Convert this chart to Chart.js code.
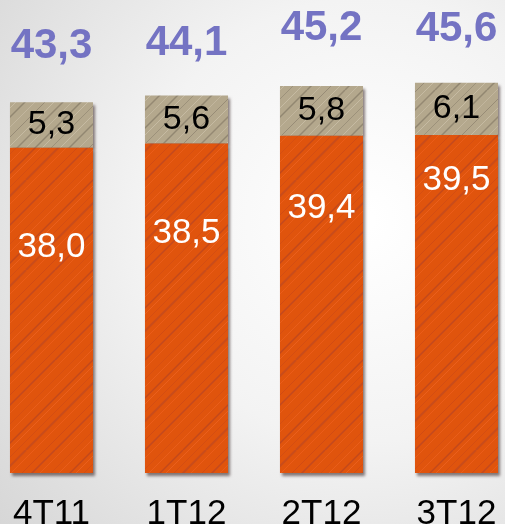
<!DOCTYPE html>
<html><head><meta charset="utf-8">
<script src="https://cdn.jsdelivr.net/npm/chart.js@4/dist/chart.umd.min.js"></script>
<style>html,body{margin:0;padding:0;background:#ececec;overflow:hidden}</style>
</head><body>
<canvas id="c" width="505" height="524" style="display:block;width:505px;height:524px"></canvas>
<script>
const categories = ['4T11', '1T12', '2T12', '3T12'];
const baseValues = [38.0, 38.5, 39.4, 39.5];
const topValues = [5.3, 5.6, 5.8, 6.1];
const totalValues = [43.3, 44.1, 45.2, 45.6];

const fmt = v => v.toFixed(1).replace('.', ',');
const FONT = '"Liberation Sans", Arial, sans-serif';

function makePattern(base, streaks) {
  const N = 90;
  const cv = document.createElement('canvas');
  cv.width = N; cv.height = N;
  const g = cv.getContext('2d');
  g.fillStyle = base; g.fillRect(0, 0, N, N);
  streaks.forEach(s => {
    g.strokeStyle = s.c; g.lineWidth = s.w;
    for (const k of [s.k - N, s.k, s.k + N]) {
      g.beginPath(); g.moveTo(k, N); g.lineTo(k + N, 0); g.stroke();
    }
  });
  return g.createPattern(cv, 'repeat');
}

const ctx0 = document.getElementById('c').getContext('2d');
const orangeFill = makePattern('#e0540d', [
  {k: 3, w: 1.5, c: 'rgba(150,55,50,0.40)'},
  {k: 9, w: 1, c: 'rgba(255,120,60,0.35)'},
  {k: 17, w: 1, c: 'rgba(190,65,30,0.35)'},
  {k: 26, w: 2, c: 'rgba(150,60,60,0.30)'},
  {k: 34, w: 1, c: 'rgba(255,110,50,0.35)'},
  {k: 45, w: 1, c: 'rgba(180,60,35,0.35)'},
  {k: 55, w: 1.5, c: 'rgba(140,55,65,0.35)'},
  {k: 63, w: 1, c: 'rgba(255,115,55,0.30)'},
  {k: 74, w: 1, c: 'rgba(190,65,30,0.30)'},
  {k: 82, w: 1, c: 'rgba(255,120,60,0.30)'}
]);
const tanFill = makePattern('#b4a88d', [
  {k: 3, w: 1.5, c: 'rgba(110,100,85,0.50)'},
  {k: 10, w: 1, c: 'rgba(215,205,185,0.50)'},
  {k: 19, w: 1, c: 'rgba(120,110,95,0.40)'},
  {k: 28, w: 1, c: 'rgba(220,210,190,0.45)'},
  {k: 37, w: 1.5, c: 'rgba(105,95,80,0.45)'},
  {k: 47, w: 1, c: 'rgba(210,200,180,0.45)'},
  {k: 57, w: 1, c: 'rgba(115,105,90,0.45)'},
  {k: 66, w: 1, c: 'rgba(220,210,190,0.45)'},
  {k: 75, w: 1.5, c: 'rgba(110,100,85,0.45)'},
  {k: 84, w: 1, c: 'rgba(215,205,185,0.40)'}
]);

const bgPlugin = {
  id: 'bg',
  beforeDraw(chart) {
    const c = chart.ctx, W = chart.width, H = chart.height;
    c.save();
    const gr = c.createRadialGradient(W * 0.72, H * 0.42, 10, W * 0.72, H * 0.42, W * 0.95);
    gr.addColorStop(0, '#ffffff');
    gr.addColorStop(0.45, '#f3f3f3');
    gr.addColorStop(1, '#d6d6d6');
    c.fillStyle = gr; c.fillRect(0, 0, W, H);
    c.restore();
  }
};

const shadowPlugin = {
  id: 'shadow',
  beforeDatasetsDraw(chart) {
    const c = chart.ctx; c.save();
    c.shadowColor = 'rgba(40,20,20,0.55)';
    c.shadowBlur = 3; c.shadowOffsetX = 2; c.shadowOffsetY = 3;
  },
  afterDatasetsDraw(chart) { chart.ctx.restore(); }
};

const labelPlugin = {
  id: 'vlabels',
  afterDraw(chart, args, opts) {
    const c = chart.ctx;
    const m0 = chart.getDatasetMeta(0), m1 = chart.getDatasetMeta(1);
    c.save();
    c.textAlign = 'center'; c.textBaseline = 'middle';
    categories.forEach((cat, i) => {
      const e0 = m0.data[i], e1 = m1.data[i];
      c.fillStyle = '#ffffff'; c.font = '35px ' + FONT;
      c.fillText(fmt(baseValues[i]), e0.x, e0.y + opts.baseNudge[i]);
      c.fillStyle = '#000000'; c.font = '34px ' + FONT;
      c.fillText(fmt(topValues[i]), e1.x, (e1.y + e1.base) / 2);
      c.fillStyle = '#7473c3'; c.font = 'bold 42px ' + FONT;
      c.fillText(fmt(totalValues[i]), e1.x, e1.y - opts.totalGap[i]);
    });
    c.restore();
  }
};

new Chart(ctx0, {
  type: 'bar',
  data: {
    labels: categories,
    datasets: [
      {data: baseValues, backgroundColor: orangeFill, borderWidth: 0, clip: false,
       barPercentage: 0.615, categoryPercentage: 1},
      {data: topValues, backgroundColor: tanFill, borderWidth: 0, clip: false,
       barPercentage: 0.615, categoryPercentage: 1}
    ]
  },
  options: {
    responsive: false,
    animation: false,
    devicePixelRatio: 1,
    layout: {padding: {left: 51.5, right: 48.5, top: 0, bottom: 0}},
    plugins: {
      legend: {display: false}, tooltip: {enabled: false},
      vlabels: {baseNudge: [100, 90, 73, 45], totalGap: [56, 52, 58, 53]}
    },
    scales: {
      x: {
        stacked: true, offset: false,
        grid: {display: false}, border: {display: false},
        ticks: {color: '#000', font: {size: 35, family: FONT}, padding: 12, maxRotation: 0, autoSkip: false},
        afterFit(s) { s.height = 51; s.paddingLeft = 0; s.paddingRight = 0; }
      },
      y: {stacked: true, display: false, min: 0, max: 55.26}
    }
  },
  plugins: [bgPlugin, shadowPlugin, labelPlugin]
});
</script>
</body></html>
